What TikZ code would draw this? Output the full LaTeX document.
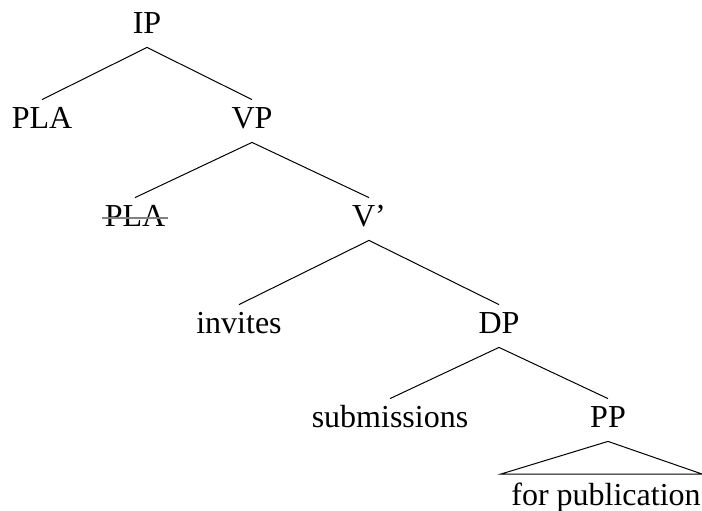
\documentclass[tikz,border=0pt]{standalone}
\usepackage{fontspec}
\setmainfont{Liberation Serif}
\usepackage{tikz}

\begin{document}
\begin{tikzpicture}[x=0.5pt, y=-0.5pt,
    cat/.style = {inner sep=0pt, anchor=base, text height=14pt, text depth=7pt,
                  font=\fontsize{16}{19}\selectfont},
    branch/.style = {line width=0.5pt}]
  \useasboundingbox (0,0) rectangle (702,510);

  \node[cat] (ip)   at (147,33)  {IP};
  \node[cat] (pla)  at (42,128)  {PLA};
  \node[cat] (vp)   at (252,128) {VP};
  \node[cat] (plat) at (135,226) {PLA};
  \node[cat] (vbar) at (369,226) {V'};
  \node[cat] (inv)  at (239,333) {invites};
  \node[cat] (dp)   at (499,333) {DP};
  \node[cat] (sub)  at (390,427) {submissions};
  \node[cat] (pp)   at (608,427) {PP};
  \node[cat] (fp)   at (606,505) {for publication};

  \coordinate (tl) at (501,474);
  \coordinate (tr) at (702,474);

  \draw[branch]
    (ip.south)   edge[] (pla.north)
    (ip.south)   edge[] (vp.north)
    (vp.south)   edge[] (plat.north)
    (vp.south)   edge[] (vbar.north)
    (vbar.south) edge[] (inv.north)
    (vbar.south) edge[] (dp.north)
    (dp.south)   edge[] (sub.north)
    (dp.south)   edge[] (pp.north);

  \draw[branch] (pp.south) -- (tl) -- (tr) -- cycle;

  \draw[gray, line width=0.6pt] ([xshift=-1pt,yshift=4pt]plat.base west) -- ([xshift=1pt,yshift=4pt]plat.base east);
\end{tikzpicture}
\end{document}
